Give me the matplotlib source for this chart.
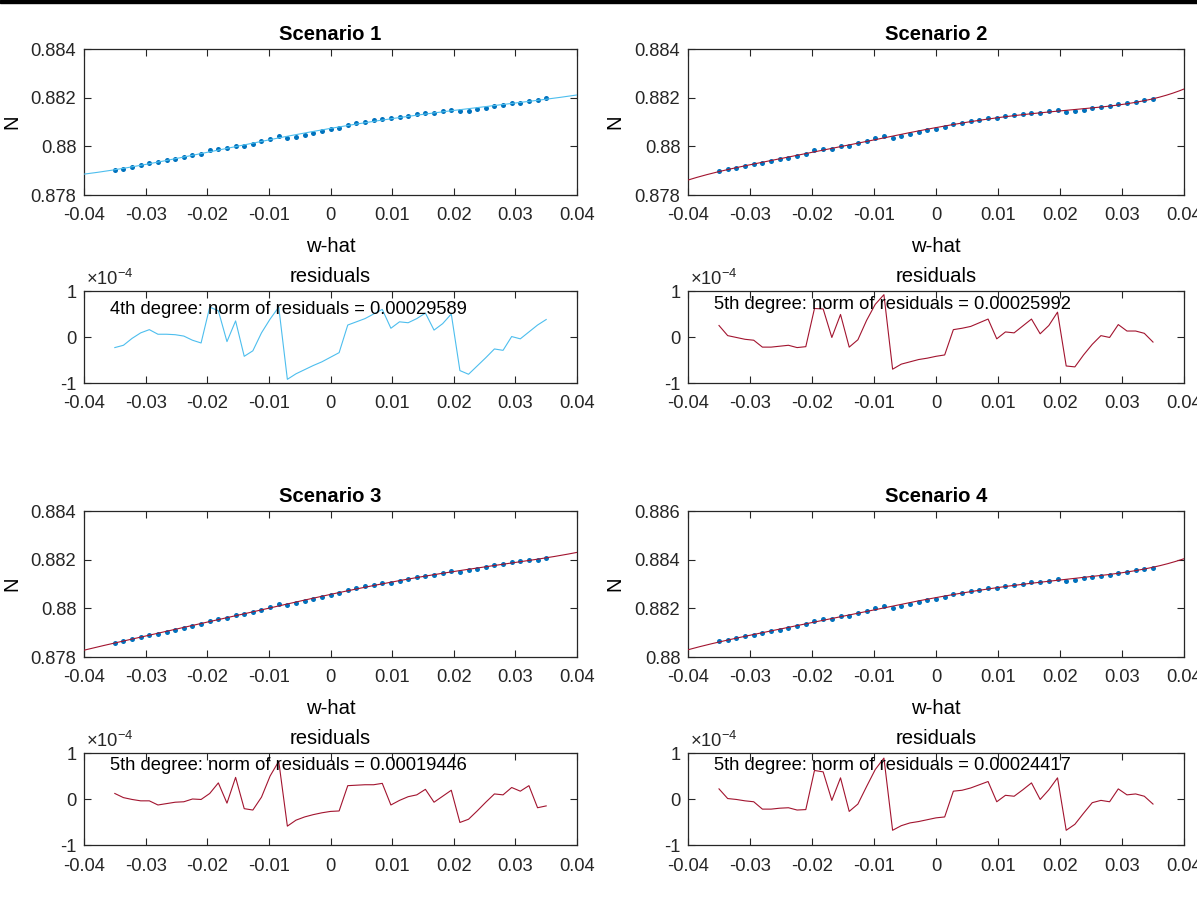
import numpy as np
import matplotlib.pyplot as plt
from matplotlib.ticker import FuncFormatter, MultipleLocator
from matplotlib.patches import Rectangle

plt.rcParams['font.family'] = ['Liberation Sans', 'DejaVu Sans']
plt.rcParams['mathtext.fontset'] = 'custom'
plt.rcParams['mathtext.rm'] = 'Liberation Sans'

# sample points (w-hat) and fit anchors
w_hat = np.round(-0.035 + 0.0014 * np.arange(51), 4)
anchor_w = [-0.04, -0.03, -0.02, -0.01, 0.0, 0.01, 0.02, 0.03, 0.04]

fit_s1 = [0.87886, 0.87925, 0.87976, 0.88027, 0.88074, 0.88113, 0.88148, 0.88178, 0.88211]
fit_s2 = [0.87862, 0.87922, 0.87978, 0.88026, 0.88075, 0.88118, 0.88148, 0.88170, 0.88236]
fit_s3 = [0.87828, 0.87886, 0.87943, 0.88001, 0.88057, 0.88108, 0.88152, 0.88188, 0.88230]
fit_s4 = [0.88030, 0.88088, 0.88144, 0.88193, 0.88243, 0.88287, 0.88316, 0.88346, 0.88404]

# residuals, units of 1e-4
resid_s1 = [-0.23, -0.18, -0.03, 0.09, 0.16, 0.06, 0.06, 0.05, 0.02, -0.07, -0.13,
            0.65, 0.57, -0.10, 0.35, -0.42, -0.30, 0.09, 0.39, 0.65, -0.92,
            -0.80, -0.71, -0.62, -0.54, -0.44, -0.34, 0.26, 0.33, 0.40, 0.50,
            0.60, 0.19, 0.33, 0.31, 0.40, 0.52, 0.15, 0.29, 0.50, -0.73,
            -0.81, -0.63, -0.45, -0.26, -0.29, 0.01, -0.04, 0.11, 0.26, 0.38]
resid_s2 = [0.25, 0.03, -0.01, -0.05, -0.07, -0.22, -0.22, -0.20, -0.18, -0.23, -0.21,
            0.62, 0.61, -0.01, 0.49, -0.22, -0.06, 0.36, 0.71, 0.92, -0.70,
            -0.59, -0.54, -0.49, -0.46, -0.42, -0.39, 0.16, 0.19, 0.23, 0.31,
            0.39, -0.04, 0.11, 0.09, 0.24, 0.39, 0.07, 0.25, 0.54, -0.63,
            -0.65, -0.39, -0.16, 0.03, -0.01, 0.27, 0.13, 0.13, 0.08, -0.11]
resid_s3 = [0.12, 0.03, -0.01, -0.04, -0.04, -0.13, -0.10, -0.07, -0.06, 0.00, -0.01,
            0.12, 0.35, -0.09, 0.47, -0.21, -0.24, 0.04, 0.50, 0.82, -0.59,
            -0.46, -0.39, -0.34, -0.30, -0.27, -0.26, 0.29, 0.30, 0.31, 0.31,
            0.34, -0.13, -0.03, 0.05, 0.09, 0.21, -0.07, 0.06, 0.19, -0.51,
            -0.44, -0.26, -0.07, 0.11, 0.09, 0.25, 0.17, 0.29, -0.19, -0.15]
resid_s4 = [0.22, 0.01, -0.01, -0.04, -0.06, -0.22, -0.22, -0.20, -0.19, -0.24, -0.23,
            0.62, 0.59, -0.03, 0.46, -0.27, -0.11, 0.27, 0.64, 0.89, -0.68,
            -0.58, -0.52, -0.49, -0.45, -0.41, -0.39, 0.17, 0.19, 0.24, 0.31,
            0.38, -0.06, 0.08, 0.06, 0.20, 0.35, -0.01, 0.20, 0.46, -0.68,
            -0.55, -0.31, -0.08, -0.03, -0.06, 0.22, 0.09, 0.11, 0.06, -0.11]

titles = ["Scenario 1", "Scenario 2", "Scenario 3", "Scenario 4"]
degrees = [4, 5, 5, 5]
norm_text = ["4th degree: norm of residuals = 0.00029589",
             "5th degree: norm of residuals = 0.00025992",
             "5th degree: norm of residuals = 0.00019446",
             "5th degree: norm of residuals = 0.00024417"]
ylims = [(0.878, 0.884), (0.878, 0.884), (0.878, 0.884), (0.880, 0.886)]
fits = [fit_s1, fit_s2, fit_s3, fit_s4]
resids = [resid_s1, resid_s2, resid_s3, resid_s4]

DOT = '#0072BD'
LIGHT = '#4DBEEE'
RED = '#A2142F'
AX = '#262626'
line_colors = [LIGHT, RED, RED, RED]
text_y = [0.6, 0.71, 0.73, 0.73]

W, H = 1197, 921
fig = plt.figure(figsize=(W / 100, H / 100), dpi=100)
fig.patches.append(Rectangle((0, 1 - 3 / H), 1, 3 / H, transform=fig.transFigure,
                             color='black', zorder=10))

fmt = FuncFormatter(lambda v, p: '%g' % round(v, 6))


def style(ax):
    ax.set_xlim(-0.04, 0.04)
    ax.xaxis.set_major_locator(MultipleLocator(0.01))
    ax.xaxis.set_major_formatter(fmt)
    ax.yaxis.set_major_formatter(fmt)
    ax.tick_params(direction='in', top=True, right=True, length=5, width=0.8,
                   color=AX, labelcolor=AX, labelsize=13.2, pad=5.5)
    ax.tick_params(axis='x', pad=9)
    for s in ax.spines.values():
        s.set_color(AX)
        s.set_linewidth(0.9)


lefts = [84, 688, 84, 688]
widths = [493, 496, 493, 496]
main_tops = [49, 49, 511, 511]
res_tops = [291, 291, 753, 753]
fine_w = np.linspace(-0.04, 0.04, 400)

for k in range(4):
    coef = np.polyfit(anchor_w, fits[k], degrees[k])
    r = np.array(resids[k])
    n_data = np.polyval(coef, w_hat) + r * 1e-4

    ax = fig.add_axes([lefts[k] / W, 1 - (main_tops[k] + 146) / H, widths[k] / W, 146 / H])
    ax.plot(w_hat, n_data, 'o', color=DOT, markersize=3.6, markeredgewidth=0, zorder=2)
    ax.plot(fine_w, np.polyval(coef, fine_w), color=line_colors[k], lw=0.8, zorder=3)
    ax.set_ylim(*ylims[k])
    ax.yaxis.set_major_locator(MultipleLocator(0.002))
    style(ax)
    ax.set_title(titles[k], fontsize=14.6, fontweight='bold', pad=6.5)
    ax.set_xlabel('w-hat', fontsize=14.6)
    ax.xaxis.set_label_coords(0.5, -0.29)
    ax.set_ylabel('N', fontsize=14.6)
    ax.yaxis.set_label_coords(-0.128, 0.5)

    rax = fig.add_axes([lefts[k] / W, 1 - (res_tops[k] + 92) / H, widths[k] / W, 92 / H])
    rax.plot(w_hat, r, color=line_colors[k], lw=0.8)
    rax.set_ylim(-1, 1)
    rax.yaxis.set_major_locator(MultipleLocator(1))
    style(rax)
    rax.set_title('residuals', fontsize=14.6, pad=6.5)
    rax.text(0.004, 1.02, r'$\times10^{\mathrm{-}4}$', transform=rax.transAxes,
             ha='left', va='bottom', fontsize=13.2, color=AX)
    rax.text(-0.0358, text_y[k], norm_text[k], fontsize=13.2, va='center', ha='left')

fig.savefig('out.png', dpi=100)
